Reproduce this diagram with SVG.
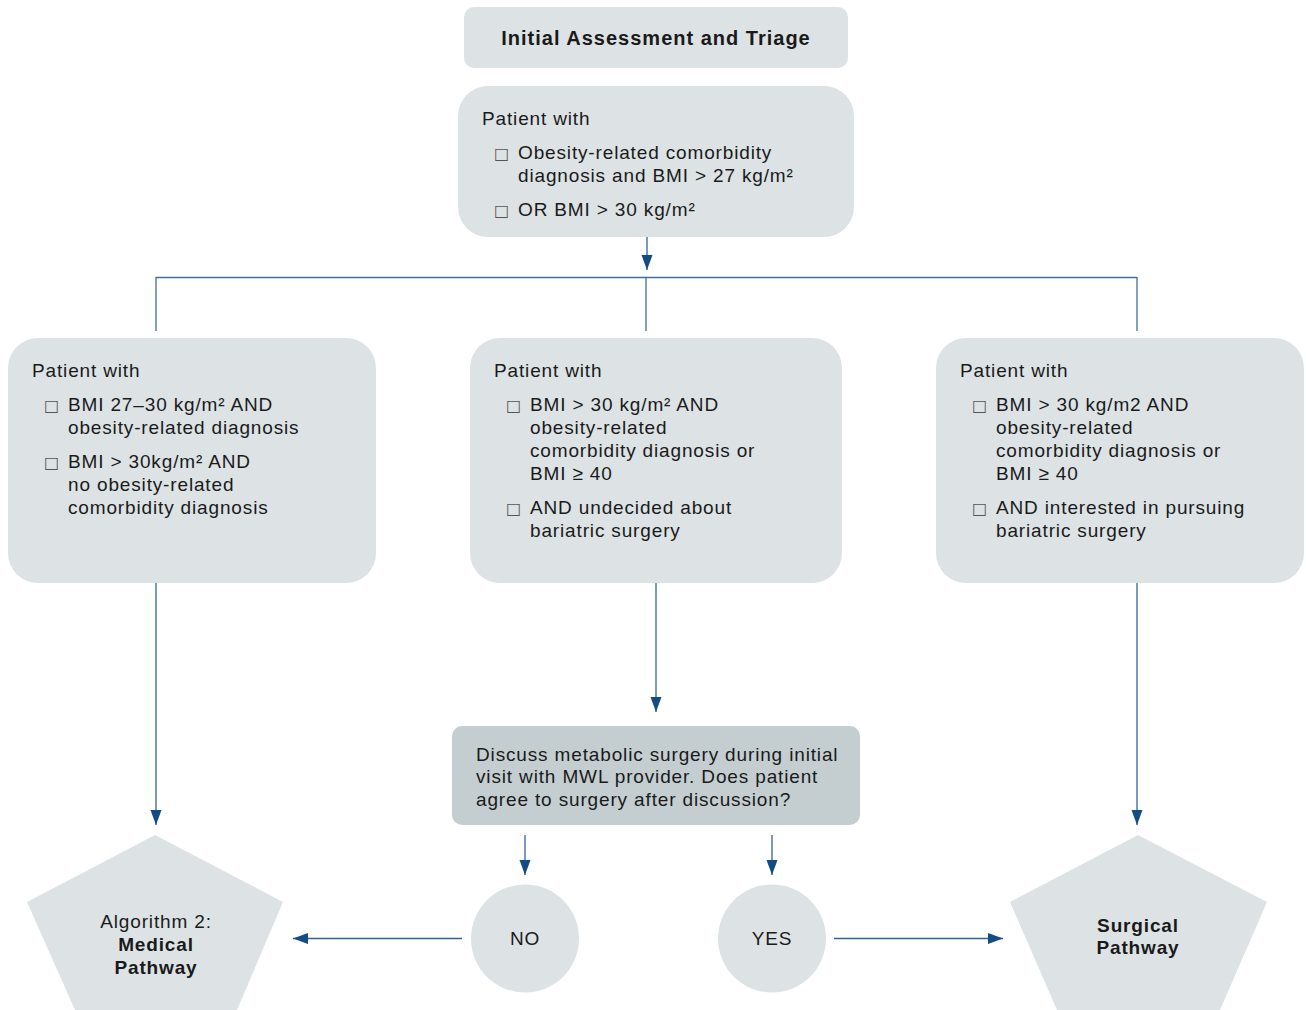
<svg xmlns="http://www.w3.org/2000/svg" width="1306" height="1010" viewBox="0 0 1306 1010">
<defs>
<marker id="ah" markerUnits="userSpaceOnUse" markerWidth="15" markerHeight="12" refX="15" refY="6" orient="auto">
<path d="M0,0.5 L15,6 L0,11.5 z" fill="#134b82"/>
</marker>
<style>
.box{fill:#dde3e5}
.dec{fill:#c4ced1}
.t{font-family:"Liberation Sans",Arial,sans-serif;font-size:19px;letter-spacing:0.85px;fill:#1a1a1a}
.b{font-weight:bold}
.bul{font-family:"DejaVu Sans",sans-serif;font-size:16px;fill:#555}
.c{text-anchor:middle}
.ln{stroke:#3f6f9c;stroke-width:1.3;fill:none}
.ar{stroke:#2f649a;stroke-width:1.3;fill:none;marker-end:url(#ah)}
</style>
</defs>
<rect width="1306" height="1010" fill="#ffffff"/>

<g id="connectors">
<line class="ar" x1="647" y1="237" x2="647" y2="270"/>
<line class="ln" x1="156" y1="277.5" x2="1137" y2="277.5"/>
<line class="ln" x1="156" y1="277" x2="156" y2="331"/>
<line class="ln" x1="646" y1="277" x2="646" y2="331"/>
<line class="ln" x1="1137" y1="277" x2="1137" y2="331"/>
<line class="ar" x1="156" y1="583" x2="156" y2="825"/>
<line class="ar" x1="656" y1="583" x2="656" y2="712"/>
<line class="ar" x1="1137" y1="583" x2="1137" y2="825"/>
<line class="ar" x1="525" y1="835" x2="525" y2="875"/>
<line class="ar" x1="772" y1="835" x2="772" y2="875"/>
<line class="ar" x1="462" y1="938.5" x2="293" y2="938.5"/>
<line class="ar" x1="834" y1="938.5" x2="1003" y2="938.5"/>
</g>

<g id="title">
<rect class="box" x="464" y="7" width="384" height="61" rx="10"/>
<text class="t b c" x="656" y="45" style="font-size:20px;letter-spacing:1px">Initial Assessment and Triage</text>
</g>

<g id="patient-top">
<rect class="box" x="458" y="86" width="396" height="151" rx="30"/>
<text class="t" x="482" y="125">Patient with</text>
<text class="bul" x="494" y="159">□</text>
<text class="t" x="518" y="159">Obesity-related comorbidity</text>
<text class="t" x="518" y="182">diagnosis and BMI &gt; 27 kg/m²</text>
<text class="bul" x="494" y="216">□</text>
<text class="t" x="518" y="216">OR BMI &gt; 30 kg/m²</text>
</g>

<g id="patient-left">
<rect class="box" x="8" y="338" width="368" height="245" rx="30"/>
<text class="t" x="32" y="377">Patient with</text>
<text class="bul" x="44" y="411">□</text>
<text class="t" x="68" y="411">BMI 27–30 kg/m² AND</text>
<text class="t" x="68" y="434">obesity-related diagnosis</text>
<text class="bul" x="44" y="468">□</text>
<text class="t" x="68" y="468">BMI &gt; 30kg/m² AND</text>
<text class="t" x="68" y="491">no obesity-related</text>
<text class="t" x="68" y="514">comorbidity diagnosis</text>
</g>

<g id="patient-middle">
<rect class="box" x="470" y="338" width="372" height="245" rx="30"/>
<text class="t" x="494" y="377">Patient with</text>
<text class="bul" x="506" y="411">□</text>
<text class="t" x="530" y="411">BMI &gt; 30 kg/m² AND</text>
<text class="t" x="530" y="434">obesity-related</text>
<text class="t" x="530" y="457">comorbidity diagnosis or</text>
<text class="t" x="530" y="480">BMI ≥ 40</text>
<text class="bul" x="506" y="514">□</text>
<text class="t" x="530" y="514">AND undecided about</text>
<text class="t" x="530" y="537">bariatric surgery</text>
</g>

<g id="patient-right">
<rect class="box" x="936" y="338" width="368" height="245" rx="30"/>
<text class="t" x="960" y="377">Patient with</text>
<text class="bul" x="972" y="411">□</text>
<text class="t" x="996" y="411">BMI &gt; 30 kg/m2 AND</text>
<text class="t" x="996" y="434">obesity-related</text>
<text class="t" x="996" y="457">comorbidity diagnosis or</text>
<text class="t" x="996" y="480">BMI ≥ 40</text>
<text class="bul" x="972" y="514">□</text>
<text class="t" x="996" y="514">AND interested in pursuing</text>
<text class="t" x="996" y="537">bariatric surgery</text>
</g>

<g id="discuss">
<rect class="dec" x="452" y="726" width="408" height="99" rx="10"/>
<text class="t" x="476" y="761">Discuss metabolic surgery during initial</text>
<text class="t" x="476" y="783">visit with MWL provider. Does patient</text>
<text class="t" x="476" y="806">agree to surgery after discussion?</text>
</g>

<g id="no">
<circle class="box" cx="525" cy="938.5" r="54"/>
<text class="t c" x="525" y="945">NO</text>
</g>

<g id="yes">
<circle class="box" cx="772" cy="938.5" r="54"/>
<text class="t c" x="772" y="945">YES</text>
</g>

<g id="medical">
<polygon class="box" points="155,835 283,902 237,1010 75,1010 27,902"/>
<text class="t c" x="156" y="928">Algorithm 2:</text>
<text class="t b c" x="156" y="951">Medical</text>
<text class="t b c" x="156" y="974">Pathway</text>
</g>

<g id="surgical">
<polygon class="box" points="1138,835 1267,902 1220,1010 1057,1010 1010,902"/>
<text class="t b c" x="1138" y="932">Surgical</text>
<text class="t b c" x="1138" y="954">Pathway</text>
</g>
</svg>
